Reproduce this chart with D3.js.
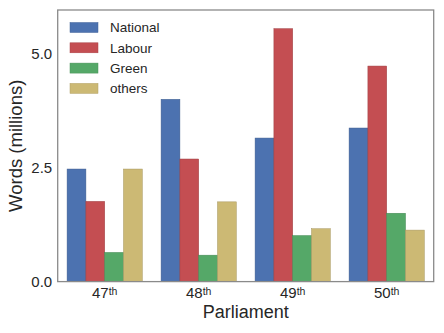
<!DOCTYPE html>
<html><head><meta charset="utf-8">
<script src="https://cdn.jsdelivr.net/npm/d3@7"></script>
<style>body{margin:0;background:#fff}svg{display:block;font-family:"Liberation Sans",Arial,sans-serif}</style>
</head><body><svg id="c" width="444" height="333"></svg>
<script>
const parliaments = ["47", "48", "49", "50"];
const seriesNames = ["National", "Labour", "Green", "others"];
const colors = ["#4C72B0", "#C44E52", "#55A868", "#CCB974"];
const national = [2.47, 4.00, 3.15, 3.37];
const labour = [1.76, 2.69, 5.55, 4.73];
const green = [0.64, 0.58, 1.01, 1.50];
const others = [2.47, 1.75, 1.16, 1.13];
const yTicks = [0, 2.5, 5.0];
const seriesValues = [national, labour, green, others];

const svg = d3.select("#c");
const m = {l: 57.7, r: 433.7, t: 10, b: 281.6};
const x0 = d3.scaleBand().domain(parliaments).range([m.l, m.r]).padding(0);
const x1 = d3.scaleBand().domain(seriesNames)
  .range([x0.bandwidth()*0.1, x0.bandwidth()*0.9]).padding(0);
const y = d3.scaleLinear().domain([0, 5.96]).range([m.b, m.t]);

const data = [];
parliaments.forEach((p, i) => seriesNames.forEach((s, j) => data.push({p, s, j, v: seriesValues[j][i]})));

svg.append("g").selectAll("rect").data(data).join("rect")
  .attr("x", d => x0(d.p) + x1(d.s))
  .attr("y", d => y(d.v))
  .attr("width", x1.bandwidth())
  .attr("height", d => y(0) - y(d.v))
  .attr("fill", d => colors[d.j])
  .attr("stroke", d => d3.color(colors[d.j]).darker(0.6))
  .attr("stroke-width", 0.5);

// frame
svg.append("rect").attr("x", m.l).attr("y", m.t).attr("width", m.r - m.l).attr("height", m.b - m.t)
  .attr("fill", "none").attr("stroke", "#8a8a8a").attr("stroke-width", 1.3);

// y axis
const ya = svg.append("g").attr("transform", `translate(${m.l},0)`)
  .call(d3.axisLeft(y).tickValues(yTicks).tickFormat(d3.format(".1f")).tickSize(0).tickPadding(5.5));
ya.select(".domain").remove();
ya.selectAll("text").attr("font-size", 15).attr("fill", "#262626").attr("font-family", "Liberation Sans, Arial, sans-serif");

// x axis
const xa = svg.append("g").attr("transform", `translate(0,${m.b})`)
  .call(d3.axisBottom(x0).tickSize(0).tickFormat(""));
xa.select(".domain").remove();
xa.selectAll(".tick").append("text")
  .attr("y", 16.7).attr("text-anchor", "middle").attr("fill", "#262626")
  .attr("font-family", "Liberation Sans, Arial, sans-serif")
  .each(function(d){
    const t = d3.select(this);
    t.append("tspan").attr("font-size", 15).text(d);
    t.append("tspan").attr("font-size", 10.5).attr("dy", -3.5).text("th");
  });

// axis labels
svg.append("text").attr("x", (m.l + m.r)/2).attr("y", 318).attr("text-anchor", "middle")
  .attr("font-size", 18).attr("fill", "#262626").text("Parliament");
svg.append("text").attr("transform", `translate(22,${(m.t + m.b)/2}) rotate(-90)`).attr("text-anchor", "middle")
  .attr("font-size", 18.5).attr("fill", "#262626").text("Words (millions)");

// legend
const lg = svg.append("g");
seriesNames.forEach((s, i) => {
  const cy = 27.5 + i*20.3;
  lg.append("rect").attr("x", 70).attr("y", cy - 5).attr("width", 28).attr("height", 10)
    .attr("fill", colors[i]).attr("stroke", d3.color(colors[i]).darker(0.4)).attr("stroke-width", 0.5);
  lg.append("text").attr("x", 110).attr("y", cy + 4.8).attr("font-size", 13.5).attr("fill", "#262626").text(s);
});
</script></body></html>
